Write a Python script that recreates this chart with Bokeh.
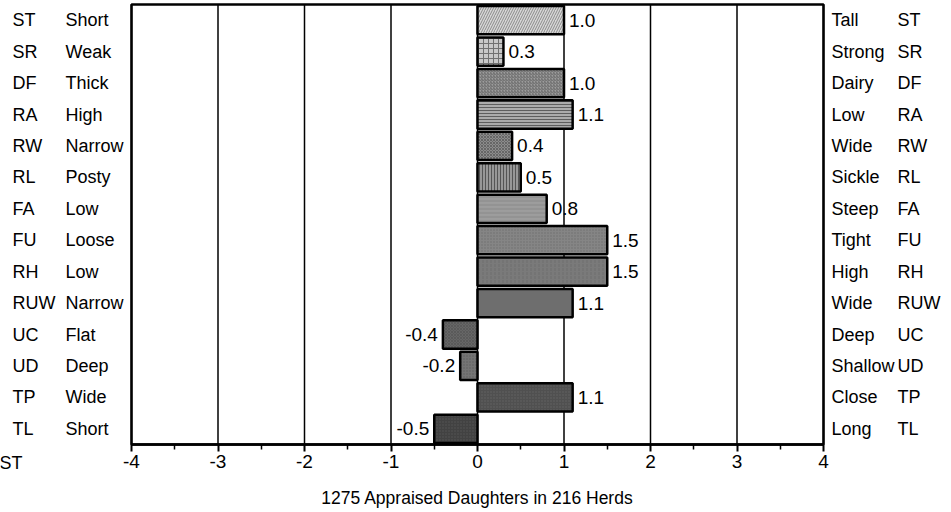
from bokeh.plotting import figure
from bokeh.models import ColumnDataSource, LabelSet, Label, Range1d, FixedTicker
from bokeh.core.properties import value
from bokeh.embed import file_html
from bokeh.resources import INLINE

# ---- data ----
codes = ["ST", "SR", "DF", "RA", "RW", "RL", "FA", "FU", "RH", "RUW", "UC", "UD", "TP", "TL"]
low_labels = ["Short", "Weak", "Thick", "High", "Narrow", "Posty", "Low", "Loose", "Low",
              "Narrow", "Flat", "Deep", "Wide", "Short"]
high_labels = ["Tall", "Strong", "Dairy", "Low", "Wide", "Sickle", "Steep", "Tight", "High",
               "Wide", "Deep", "Shallow", "Close", "Long"]
values = [1.0, 0.3, 1.0, 1.1, 0.4, 0.5, 0.8, 1.5, 1.5, 1.1, -0.4, -0.2, 1.1, -0.5]
x_ticks = [-4, -3, -2, -1, 0, 1, 2, 3, 4]
x_title = "1275 Appraised Daughters in 216 Herds"
corner_text = "ST"

# ---- styles (one per bar) ----
fills = ["#d8d8d8", "#c8c8c8", "#9c9c9c", "#ababab", "#8c8c8c", "#979797", "#939393",
         "#858585", "#7a7a7a", "#6e6e6e", "#666666", "#747474", "#505050", "#424242"]
hatch_patterns = ["/", "+", "/", "-", "x", "|", "-", ".", ":", " ", "x", ".", ".", "."]
hatch_colors = ["#8a8a8a", "#707070", "#6a6a6a", "#5e5e5e", "#666666", "#555555", "#a6a6a6",
                "#6c6c6c", "#6e6e6e", "#6e6e6e", "#5a5a5a", "#5c5c5c", "#626262", "#555555"]
hatch_scales = [5, 5, 3, 3, 3, 3, 4, 3, 4, 4, 3, 3, 3, 3]

# ---- layout (pixels) ----
W, H = 951, 512
BOX_L, BOX_R, BOX_T, BOX_B = 131, 823, 4, 444
FONT = "Liberation Sans"

n = len(codes)
ys = [n - 0.5 - i for i in range(n)]
xmin, xmax = x_ticks[0], x_ticks[-1]
sx = (BOX_R - BOX_L) / (xmax - xmin)
sy = (BOX_B - BOX_T) / n
x_range = Range1d(xmin - BOX_L / sx, xmax + (W - BOX_R) / sx)
y_range = Range1d(-(H - BOX_B) / sy, n + BOX_T / sy)

src = ColumnDataSource(dict(
    y=ys, code=codes, low=low_labels, high=high_labels, val=values,
    txt=[f"{v:.1f}" for v in values],
    align=["left" if v >= 0 else "right" for v in values],
    xoff=[5 if v >= 0 else -5 for v in values],
    fill=fills, hatch=hatch_patterns, hcolor=hatch_colors, hscale=hatch_scales,
))
grid_src = ColumnDataSource(dict(x=x_ticks, y0=[0] * len(x_ticks), y1=[n] * len(x_ticks)))

p = figure(width=W, height=H, output_backend="svg", toolbar_location=None,
           x_range=x_range, y_range=y_range, y_axis_location=None, min_border=0)
p.background_fill_color = "white"
p.border_fill_color = "white"
p.outline_line_color = None
p.xgrid.visible = False
p.ygrid.visible = False

# vertical grid lines at the integer ticks, inside the box
p.segment(x0="x", y0="y0", x1="x", y1="y1", source=grid_src, line_color="black", line_width=1.5)

# plot box
p.quad(left=xmin, right=xmax, bottom=0, top=n, fill_color=None, line_color="black", line_width=2.5)

# bars
p.hbar(y="y", left=0, right="val", height=0.9, source=src,
       fill_color="fill", line_color="black", line_width=2.5,
       hatch_pattern="hatch", hatch_color="hcolor", hatch_scale="hscale", hatch_weight=1)

# value labels
p.text(x="val", y="y", text="txt", source=src, x_offset="xoff",
       text_align="align", text_baseline="middle",
       text_font=value(FONT), text_font_size="19px", text_color="black")

# x axis fixed at the bottom of the box
ax = p.xaxis[0]
ax.fixed_location = 0
ax.bounds = (xmin, xmax)
ax.ticker = FixedTicker(ticks=x_ticks, minor_ticks=[t + 0.5 for t in x_ticks[:-1]])
ax.major_label_overrides = {t: str(t) for t in x_ticks}
ax.axis_line_color = "black"
ax.axis_line_width = 2.5
ax.major_tick_line_color = "black"
ax.major_tick_line_width = 2
ax.major_tick_in = 0
ax.major_tick_out = 7
ax.minor_tick_line_color = "black"
ax.minor_tick_line_width = 1.5
ax.minor_tick_in = 0
ax.minor_tick_out = 5
ax.major_label_standoff = 3
ax.major_label_text_font = FONT
ax.major_label_text_font_size = "19px"
ax.major_label_text_color = "black"

# side labels
common = dict(source=src, y="y", x_units="canvas", text_baseline="middle",
              text_font=value(FONT), text_font_size="18px", text_color="black")
p.add_layout(LabelSet(x=12, text="code", **common))
p.add_layout(LabelSet(x=65, text="low", **common))
p.add_layout(LabelSet(x=831, text="high", **common))
p.add_layout(LabelSet(x=897, text="code", **common))

p.add_layout(Label(x=-1, x_units="canvas", y=-0.6, text=corner_text, text_baseline="middle",
                   text_font=FONT, text_font_size="18px", text_color="black"))
p.add_layout(Label(x=0, y=-1.69, text=x_title, text_align="center", text_baseline="middle",
                   text_font=FONT, text_font_size="17.5px", text_color="black"))

open("out.html", "w").write(file_html(p, INLINE))
